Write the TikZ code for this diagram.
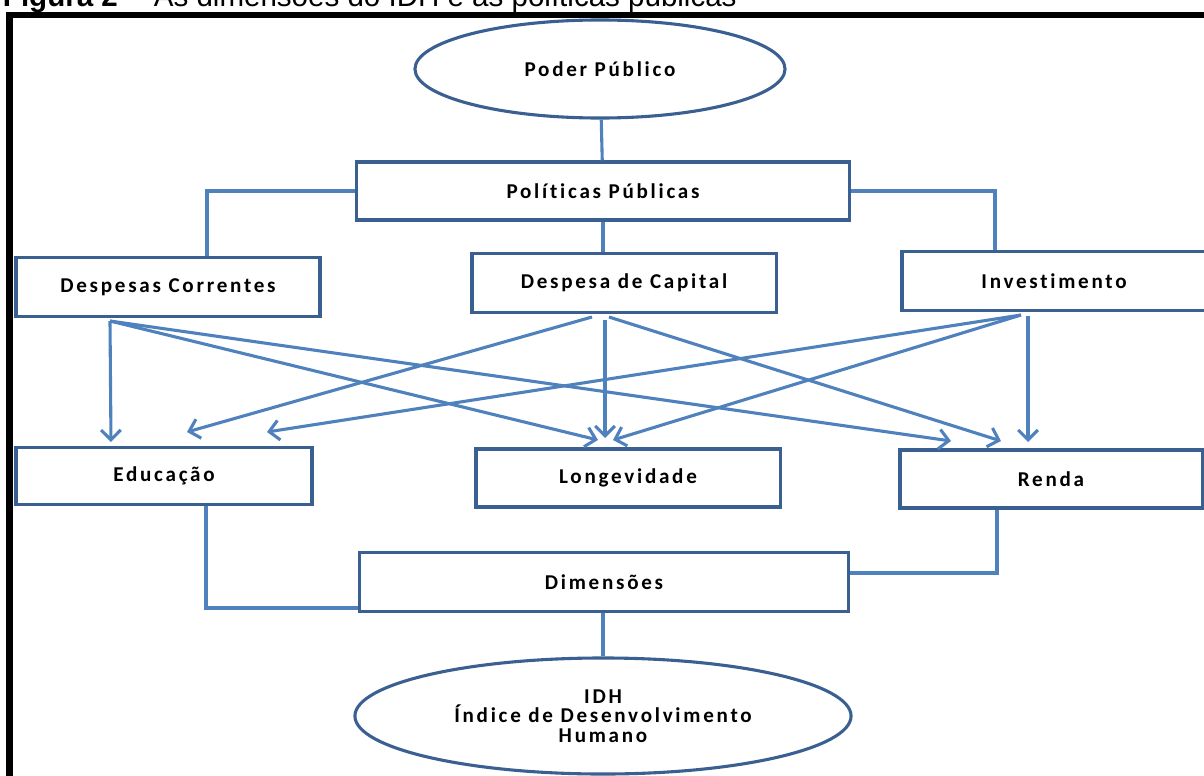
\documentclass[tikz,border=0pt]{standalone}
\usepackage{fontspec}
\setmainfont{Carlito}
\newfontfamily\caixafont[LetterSpace=13,Ligatures=NoCommon]{Carlito}
\newfontfamily\titulofont{Liberation Sans}
\usepackage{xcolor}
\usetikzlibrary{arrows.meta,shapes.geometric}

\definecolor{linha}{RGB}{79,129,189}
\definecolor{borda}{RGB}{58,95,145}

\begin{document}
\begin{tikzpicture}[x=0.025cm, y=-0.025cm,
  caixa/.style={rectangle,draw=borda,line width=2.2pt,fill=white,inner sep=0pt,
    font=\caixafont\bfseries\fontsize{15}{14}\selectfont},
  elipse/.style={ellipse,draw=borda,line width=2.2pt,fill=white,inner sep=0pt,align=center,
    font=\caixafont\bfseries\fontsize{15}{14}\selectfont},
  liga/.style={draw=linha,line width=2.2pt},
  seta/.style={liga,-{Straight Barb[length=7pt,width=14pt,line width=2.2pt]}}]
  \useasboundingbox (0,0) rectangle (1204,776);
  \node[anchor=base west,font=\titulofont\fontsize{21}{24}\selectfont] (titulo) at (-2,7)
    {\textbf{Figura 2} -- As dimensões do IDH e as políticas públicas};
  \draw[line width=4.5pt] (9.5,776) -- (9.5,15) -- (1210,15);
  % topo
  \node[elipse,minimum width=9.25cm,minimum height=2.45cm] (poder) at (600,69) {Poder Público};
  \node[caixa,minimum width=12.33cm,minimum height=1.45cm] (pol) at (603,191) {Políticas Públicas};
  % despesas
  \node[caixa,minimum width=7.6cm,minimum height=1.475cm] (dc) at (168,287) {Despesas Correntes};
  \node[caixa,minimum width=7.6cm,minimum height=1.475cm] (dk) at (624,283) {Despesa de Capital};
  \node[caixa,minimum width=7.6cm,minimum height=1.475cm] (inv) at (1054,281) {Investimento};
  % dimensoes
  \node[caixa,minimum width=7.4cm,minimum height=1.425cm] (edu) at (164,476) {Educação};
  \node[caixa,minimum width=7.6cm,minimum height=1.45cm] (lon) at (628,478) {Longevidade};
  \node[caixa,minimum width=7.55cm,minimum height=1.45cm] (ren) at (1051,479) {Renda};
  \node[caixa,minimum width=12.2cm,minimum height=1.475cm] (dim) at (604,582) {Dimensões};
  \node[elipse,minimum width=12.4cm,minimum height=2.9cm] (idh) at (603,716)
    {IDH\\Índice de Desenvolvimento\\Humano};
  % ligacoes
  \draw[liga] (poder) -- (pol);
  \draw[liga] (pol.west) -| (dc.north -| 207,0);
  \draw[liga] (pol.south) -- (pol.south |- dk.north);
  \draw[liga] (pol.east) -| (inv.north -| 995,0);
  \draw[liga] (edu.south -| 206,0) |- (dim.west |- 0,608);
  \draw[liga] (ren.south -| 997,0) |- (dim.east |- 0,573);
  \draw[liga] (dim.south -| idh.north) -- (idh.north);
  % setas
  \coordinate (dc0) at (110,321); \coordinate (dk0) at (592,317);
  \coordinate (dk1) at (605,320); \coordinate (dk2) at (609,317);
  \coordinate (inv0) at (1021,315); \coordinate (inv1) at (1028,316);
  \coordinate (edu0) at (111,442); \coordinate (edu1) at (187,432); \coordinate (edu2) at (267,432);
  \coordinate (lon0) at (598,440); \coordinate (lon1) at (605,438); \coordinate (lon2) at (613,440);
  \coordinate (ren0) at (951,441); \coordinate (ren1) at (1001,441); \coordinate (ren2) at (1028,442);
  \draw[seta] (dc0) -- (edu0); \draw[seta] (dc0) -- (lon0); \draw[seta] (dc0) -- (ren0);
  \draw[seta] (dk0) -- (edu1); \draw[seta] (dk1) -- (lon1); \draw[seta] (dk2) -- (ren1);
  \draw[seta] (inv0) -- (edu2); \draw[seta] (inv0) -- (lon2); \draw[seta] (inv1) -- (ren2);
\end{tikzpicture}
\end{document}
